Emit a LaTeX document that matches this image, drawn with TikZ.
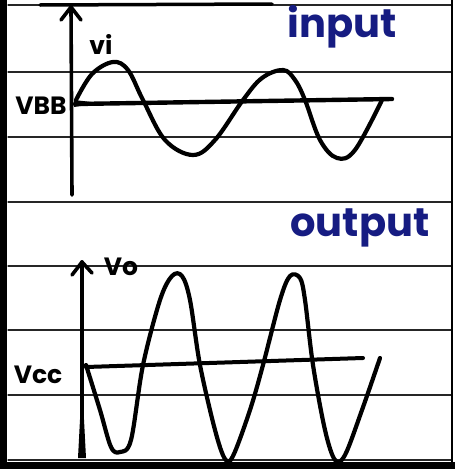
\documentclass[tikz,border=0pt]{standalone}
\usepackage{fontspec}
\setmainfont{Poppins}
\definecolor{inkblue}{RGB}{22,28,130}
\begin{document}
\begin{tikzpicture}[x=1pt,y=-1pt, line cap=round, line join=round,
  rule/.style={line width=1.3pt, black!85},
  wave/.style={line width=4.2pt},
  axis/.style={line width=3.6pt},
  lbl/.style={font=\fontsize{25}{25}\selectfont\bfseries, inner sep=0pt},
  title/.style={font=\fontsize{40}{40}\selectfont\bfseries, text=inkblue, inner sep=0pt}]
\useasboundingbox (0,0) rectangle (455,469);
\fill[white] (0,0) rectangle (455,469);
% ruled paper
\foreach \yy in {5,72,137,202,266,330,395,460}
  \draw[rule] (8,\yy) -- (452,\yy);
\draw[line width=3.5pt] (40,5) -- (272,4);
\fill (0,0) rectangle (7,469);
\fill (0,462) rectangle (455,469);
\draw[line width=1.5pt] (452,0) -- (452,462);

% ---------- input ----------
\coordinate (ib) at (72,195);
\coordinate (it) at (71,7);
\draw[axis] (ib) -- (it);
\draw[axis] ([shift={(-10,13)}]it) -- (it) -- ([shift={(10,13)}]it);
\coordinate (bbL) at (75,104);
\coordinate (bbR) at (392,99);
\draw[line width=4.4pt] (bbL) -- (bbR);
\fill (74,100) -- (100,103) -- (74,107) -- cycle;
\draw[wave] plot[smooth, tension=0.6] coordinates {(76,100) (92,74) (113,62) (128,70) (143,100) (165,140) (193,155) (215,140) (243,100) (262,78) (283,70) (295,80) (305,100) (320,140) (337,158) (355,150) (382,100)};
\node[lbl] (vi) at (101,44) {vi};
\node[lbl] (vbb) at (41,106) {VBB};
\node[title] (in) at (342,27) {input};

% ---------- output ----------
\coordinate (ob) at (82,456);
\coordinate (ot) at (82,262);
\draw[axis] (ob) -- (ot);
\fill (78,458) -- (86,458) -- (83.5,410) -- (80.5,410) -- cycle;
\draw[axis] ([shift={(-10,13)}]ot) -- (ot) -- ([shift={(10,11)}]ot);
\coordinate (ccL) at (86,367);
\coordinate (ccR) at (363,358);
\draw[line width=4pt] (ccL) -- (ccR);
\draw[wave] plot[smooth, tension=0.55] coordinates {(86,365) (100,410) (111,447) (120,452) (131,440) (143,365) (160,300) (172,276) (182,276) (190,300) (200,365) (215,430) (225,459) (233,456) (250,410) (263,365) (280,300) (290,276) (300,278) (305,300) (313,365) (325,430) (335,460) (345,455) (362,410) (380,358)};
\node[lbl] (vo) at (121,267) {Vo};
\node[lbl] (vcc) at (38,375) {Vcc};
\node[title] (out) at (360,228) {output};
\end{tikzpicture}
\end{document}
